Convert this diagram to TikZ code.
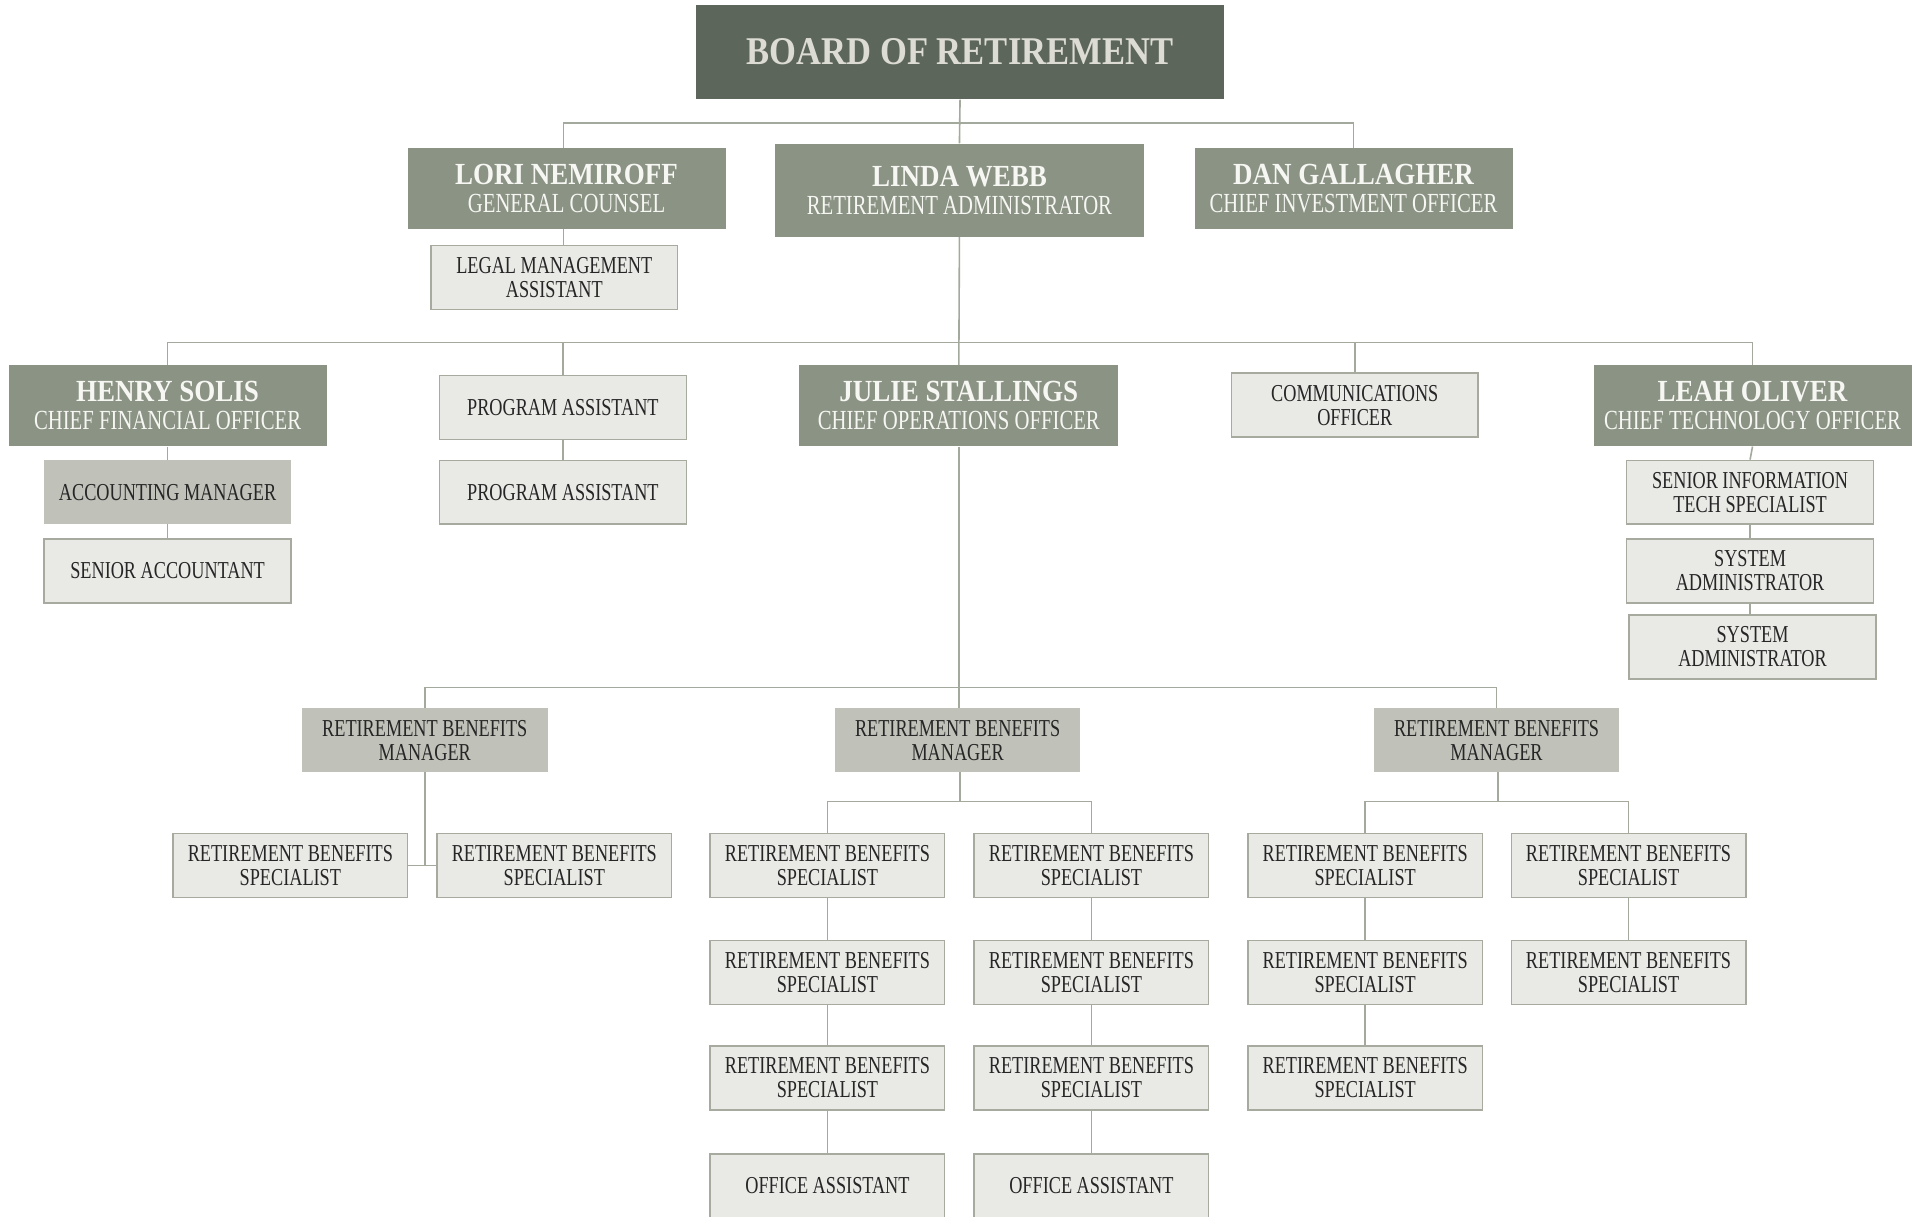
\documentclass[tikz,border=0pt]{standalone}
\usepackage{fontspec}
\setmainfont{Liberation Serif}[FakeStretch=0.75]
\newfontfamily\namefont{Liberation Serif}[FakeStretch=0.88]
\definecolor{darkc}{HTML}{5C665B}
\definecolor{midc}{HTML}{8A9384}
\definecolor{mgrc}{HTML}{C0C1B9}
\definecolor{lightc}{HTML}{E9EAE6}
\definecolor{borderc}{HTML}{A7AB9F}
\definecolor{linec}{HTML}{A4A99E}
\definecolor{titlec}{HTML}{DDDCD4}
\definecolor{offtext}{HTML}{F6F6F2}
\definecolor{boxtext}{HTML}{262626}
\newcommand{\offtxt}[2]{{\namefont\bfseries\fontsize{25}{22.5}\selectfont #1}\\{\fontsize{22.5}{22.5}\selectfont #2}}
\tikzset{
  conn/.style={draw=linec, line width=1.3pt},
  basebox/.style={rectangle, inner sep=0pt, align=center},
  topbox/.style={basebox, fill=darkc, text=titlec, minimum width=430pt, minimum height=77pt,
     font=\namefont\bfseries\fontsize{32}{34}\selectfont},
  officer/.style={basebox, fill=midc, text=offtext, minimum width=259pt, minimum height=66pt,
     font=\fontsize{22.5}{22.5}\selectfont},
  mgrbox/.style={basebox, fill=mgrc, text=boxtext, minimum width=200pt, minimum height=52pt,
     font=\fontsize{19.8}{19.5}\selectfont},
  staff/.style={basebox, fill=lightc, draw=borderc, line width=1.2pt, text=boxtext,
     minimum width=201pt, minimum height=52pt, font=\fontsize{19.8}{19.5}\selectfont},
  spec/.style={staff, minimum width=191pt},
}
\begin{document}
\begin{tikzpicture}[x=1pt, y=-1pt]
\clip (0,0) rectangle (1568,991);
\fill[white] (0,0) rectangle (1568,991);
% top
\node[topbox] (board) at (782,42.5) {BOARD OF RETIREMENT};
\node[officer] (lori) at (461.5,153.5) {\offtxt{LORI NEMIROFF}{GENERAL COUNSEL}};
\node[officer, minimum width=301pt, minimum height=76pt] (linda) at (781.5,155) {\offtxt{LINDA WEBB}{RETIREMENT ADMINISTRATOR}};
\node[officer] (dan) at (1102.5,153.5) {\offtxt{DAN GALLAGHER}{CHIEF INVESTMENT OFFICER}};
\node[staff] (legal) at (451.5,226) {LEGAL MANAGEMENT\\ASSISTANT};
% second level
\node[officer] (henry) at (136.5,330.5) {\offtxt{HENRY SOLIS}{CHIEF FINANCIAL OFFICER}};
\node[staff] (pa1) at (458.5,332) {PROGRAM ASSISTANT};
\node[staff] (pa2) at (458.5,401) {PROGRAM ASSISTANT};
\node[officer, minimum width=260pt] (julie) at (781,330.5) {\offtxt{JULIE STALLINGS}{CHIEF OPERATIONS OFFICER}};
\node[staff] (comm) at (1103.5,330) {COMMUNICATIONS\\OFFICER};
\node[officer] (leah) at (1427.5,330.5) {\offtxt{LEAH OLIVER}{CHIEF TECHNOLOGY OFFICER}};
\node[mgrbox, minimum width=201pt] (acct) at (136.5,401) {ACCOUNTING MANAGER};
\node[staff] (senacc) at (136.5,465) {SENIOR ACCOUNTANT};
\node[staff] (sit) at (1425.5,401) {SENIOR INFORMATION\\TECH SPECIALIST};
\node[staff] (sysa) at (1425.5,465) {SYSTEM\\ADMINISTRATOR};
\node[staff] (sysb) at (1427.5,527) {SYSTEM\\ADMINISTRATOR};
% managers
\node[mgrbox] (rbm1) at (346,603) {RETIREMENT BENEFITS\\MANAGER};
\node[mgrbox] (rbm2) at (780,603) {RETIREMENT BENEFITS\\MANAGER};
\node[mgrbox] (rbm3) at (1219,603) {RETIREMENT BENEFITS\\MANAGER};
% specialists
\node[spec] (s1a) at (236.5,705) {RETIREMENT BENEFITS\\SPECIALIST};
\node[spec] (s1b) at (451.5,705) {RETIREMENT BENEFITS\\SPECIALIST};
\node[spec] (a1) at (674,705) {RETIREMENT BENEFITS\\SPECIALIST};
\node[spec] (a2) at (674,792) {RETIREMENT BENEFITS\\SPECIALIST};
\node[spec] (a3) at (674,878) {RETIREMENT BENEFITS\\SPECIALIST};
\node[spec] (a4) at (674,966) {OFFICE ASSISTANT};
\node[spec] (b1) at (889,705) {RETIREMENT BENEFITS\\SPECIALIST};
\node[spec] (b2) at (889,792) {RETIREMENT BENEFITS\\SPECIALIST};
\node[spec] (b3) at (889,878) {RETIREMENT BENEFITS\\SPECIALIST};
\node[spec] (b4) at (889,966) {OFFICE ASSISTANT};
\node[spec] (c1) at (1112,705) {RETIREMENT BENEFITS\\SPECIALIST};
\node[spec] (c2) at (1112,792) {RETIREMENT BENEFITS\\SPECIALIST};
\node[spec] (c3) at (1112,878) {RETIREMENT BENEFITS\\SPECIALIST};
\node[spec] (d1) at (1326.5,705) {RETIREMENT BENEFITS\\SPECIALIST};
\node[spec] (d2) at (1326.5,792) {RETIREMENT BENEFITS\\SPECIALIST};
% bus coordinates
\coordinate (bus1) at (782,100);
\coordinate (bus2) at (782,279);
\coordinate (bus3) at (782,560);
\coordinate (bus4) at (782,653);
\coordinate (bus5) at (1220,653);
\coordinate (lorileg) at (459,100);
% connectors
\draw[conn] (board.south) -- (linda.north);
\draw[conn] (lorileg |- lori.north) |- (bus1) -| (dan.north);
\draw[conn] (lorileg |- lori.south) -- (lorileg |- legal.north);
\draw[conn] (linda.south) -- (julie.north);
\draw[conn] (henry.north) |- (bus2) -| (leah.north);
\draw[conn] (pa1.north) -- (pa1.north |- bus2);
\draw[conn] (comm.north) -- (comm.north |- bus2);
\draw[conn] (pa1.south) -- (pa2.north);
\draw[conn] (henry.south) -- (acct.north);
\draw[conn] (acct.south) -- (senacc.north);
\draw[conn] (leah.south) -- (sit.north);
\draw[conn] (sit.south) -- (sysa.north);
\draw[conn] (sysa.south) -- (sysb.north -| sysa.south);
\draw[conn] (julie.south) -- (rbm2.north -| julie.south);
\draw[conn] (rbm1.north) |- (bus3) -| (rbm3.north);
\draw[conn] (rbm1.south) -- (rbm1.south |- s1a.east);
\draw[conn] (s1a.east) -- (s1b.west);
\draw[conn] (rbm2.south -| bus4) -- (bus4);
\draw[conn] (a1.north) |- (bus4) -| (b1.north);
\draw[conn] (rbm3.south -| bus5) -- (bus5);
\draw[conn] (c1.north) |- (bus5) -| (d1.north);
\draw[conn] (a1.south) -- (a2.north);
\draw[conn] (a2.south) -- (a3.north);
\draw[conn] (a3.south) -- (a4.north);
\draw[conn] (b1.south) -- (b2.north);
\draw[conn] (b2.south) -- (b3.north);
\draw[conn] (b3.south) -- (b4.north);
\draw[conn] (c1.south) -- (c2.north);
\draw[conn] (c2.south) -- (c3.north);
\draw[conn] (d1.south) -- (d2.north);
\end{tikzpicture}
\end{document}
